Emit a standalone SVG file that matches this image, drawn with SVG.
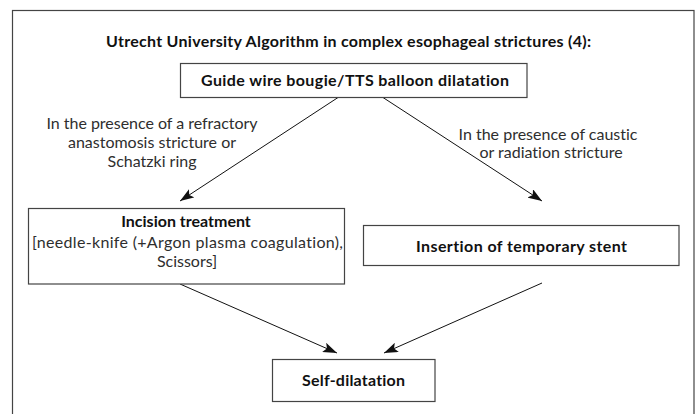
<svg xmlns="http://www.w3.org/2000/svg" width="698" height="414" viewBox="0 0 698 414">
<defs>
<marker id="ah" viewBox="0 0 14 10" refX="14" refY="5" markerWidth="14" markerHeight="10" markerUnits="userSpaceOnUse" orient="auto">
<path d="M0,0 L14,5 L0,10 L3,5 z" fill="#111"/>
</marker>
<style>
.box{fill:#fff;stroke:#444;stroke-width:1.2}
.b{font-family:Lato,"Liberation Sans",sans-serif;font-weight:bold;font-size:16px;fill:#111;text-anchor:middle;font-variant-ligatures:none}
.t{font-family:Lato,"Liberation Sans",sans-serif;font-weight:400;font-size:16px;fill:#2e2e2e;text-anchor:middle;font-variant-ligatures:none}
.c{stroke:#111;stroke-width:1;fill:none;marker-end:url(#ah)}
</style>
</defs>
<rect x="0" y="0" width="698" height="414" fill="#fff"/>
<rect x="12.5" y="10.5" width="681.5" height="420" fill="none" stroke="#444" stroke-width="1.2"/>
<text class="b" x="348.5" y="47" textLength="485" lengthAdjust="spacing">Utrecht University Algorithm in complex esophageal strictures (4):</text>
<g id="connectors">
<line class="c" x1="338" y1="97.5" x2="180" y2="201"/>
<line class="c" x1="383" y1="97.5" x2="542" y2="201"/>
<line class="c" x1="180" y1="284" x2="337" y2="353"/>
<line class="c" x1="542" y1="283" x2="384" y2="353"/>
</g>
<g id="label-left">
<text class="t" x="152" y="129" textLength="211" lengthAdjust="spacing">In the presence of a refractory</text>
<text class="t" x="152" y="148">anastomosis stricture or</text>
<text class="t" x="152" y="167">Schatzki ring</text>
</g>
<g id="label-right">
<text class="t" x="548" y="140" textLength="179" lengthAdjust="spacing">In the presence of caustic</text>
<text class="t" x="551" y="158">or radiation stricture</text>
</g>
<g id="node-dilatation">
<rect class="box" x="180.5" y="63.5" width="346.5" height="34"/>
<text class="b" x="355" y="86" textLength="308" lengthAdjust="spacing">Guide wire bougie/TTS balloon dilatation</text>
</g>
<g id="node-incision">
<rect class="box" x="28.5" y="208.5" width="316" height="75.5"/>
<text class="b" x="186" y="227">Incision treatment</text>
<text class="t" x="187.5" y="248" textLength="311" lengthAdjust="spacing">[needle-knife (+Argon plasma coagulation),</text>
<text class="t" x="187" y="267">Scissors]</text>
</g>
<g id="node-stent">
<rect class="box" x="363.5" y="225.5" width="315.5" height="40"/>
<text class="b" x="521.5" y="252" textLength="211" lengthAdjust="spacing">Insertion of temporary stent</text>
</g>
<g id="node-self">
<rect class="box" x="272.5" y="359.5" width="162.5" height="42"/>
<text class="b" x="353.5" y="386" textLength="103" lengthAdjust="spacing">Self-dilatation</text>
</g>
</svg>
